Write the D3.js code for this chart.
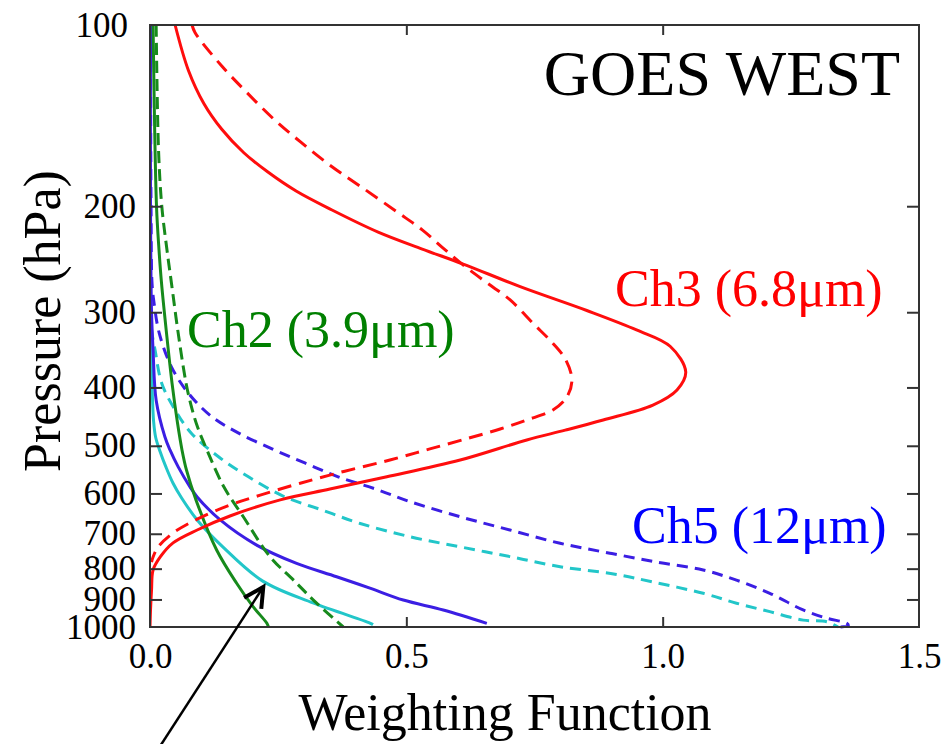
<!DOCTYPE html>
<html>
<head>
<meta charset="utf-8">
<script src="https://cdn.jsdelivr.net/npm/d3@7"></script>
<style>
  html, body { margin: 0; padding: 0; background: #fff; }
  svg { display: block; }
  text { font-family: "Liberation Serif", "Times New Roman", serif; }
</style>
</head>
<body>
<svg id="chart" width="952" height="744"></svg>
<script>
// Weighting functions, [pressure (hPa), weight] pairs
const ch3Solid = [[100,0.049],[119,0.075],[135,0.105],[149,0.140],[163,0.183],[175.5,0.230],[188.7,0.285],[202.9,0.355],[220.8,0.445],[235.6,0.531],[249.5,0.611],[272,0.722],[298,0.852],[321,0.949],[342,1.015],[377,1.045],[404,1.028],[428,0.981],[453,0.884],[471,0.810],[489,0.735],[528,0.605],[563,0.462],[590,0.351],[615,0.254],[654,0.156],[690,0.092],[725,0.045],[765,0.020],[804,0.006],[868,0.003],[937,0.001],[1000,0.0]];
const ch3Dashed = [[100,0.082],[103,0.088],[117,0.140],[130,0.191],[144,0.244],[157,0.296],[172,0.355],[186,0.413],[205,0.484],[219,0.531],[234,0.570],[250,0.610],[268,0.657],[286,0.702],[313,0.747],[338,0.786],[360,0.811],[389,0.823],[415,0.813],[436,0.786],[453,0.735],[469,0.683],[485,0.624],[506,0.546],[528,0.468],[551,0.380],[577,0.293],[604,0.215],[627,0.156],[662,0.092],[698,0.045],[736,0.016],[765,0.006],[780,0.003]];
const ch2Solid = [[100,0.006],[200,0.0127],[236.5,0.0176],[268,0.0224],[325,0.0322],[393,0.0429],[458,0.0536],[508,0.0624],[549,0.0712],[615,0.0897],[745,0.130],[846,0.169],[925,0.201],[986,0.228],[1000,0.231]];
const ch2Dashed = [[100,0.012],[161,0.0166],[200,0.023],[236,0.033],[269,0.042],[325,0.055],[393,0.0702],[428,0.080],[465,0.0926],[508,0.111],[585,0.144],[656,0.182],[764,0.234],[836,0.280],[913,0.325],[1000,0.377]];
const ch5Solid = [[100,0.001],[200,0.001],[300,0.003],[347,0.006],[420,0.012],[483,0.029],[508,0.039],[542,0.055],[585,0.078],[608,0.092],[664,0.137],[731,0.208],[784,0.286],[825,0.364],[862,0.429],[902,0.494],[937,0.572],[986,0.657]];
const ch5Dashed = [[100,0.001],[200,0.002],[269,0.004],[290,0.008],[325,0.018],[370,0.042],[409,0.075],[447,0.120],[476,0.172],[506,0.238],[534,0.302],[563,0.367],[592,0.445],[619,0.507],[656,0.605],[690,0.702],[726,0.800],[754,0.897],[781,0.991],[804,1.079],[836,1.144],[879,1.209],[937,1.274],[967,1.320],[986,1.359],[995,1.362],[1000,1.342]];
const cyanSolid = [[255,0.0],[347,0.002],[420,0.005],[455,0.007],[484,0.011],[512,0.020],[542,0.031],[577,0.045],[611,0.062],[664,0.092],[736,0.142],[839,0.220],[912,0.318],[985,0.429],[991,0.435]];
const cyanDashed = [[260,0.0],[320,0.003],[347,0.010],[394,0.023],[436,0.049],[477,0.081],[521,0.133],[563,0.192],[608,0.263],[639,0.335],[673,0.410],[708,0.507],[736,0.605],[764,0.702],[794,0.800],[817,0.907],[842,0.981],[879,1.079],[913,1.144],[943,1.209],[974,1.274],[980,1.320],[1000,1.342]];

const pressureTicks = [100, 200, 300, 400, 500, 600, 700, 800, 900, 1000];
const weightTicks = [0, 0.5, 1.0, 1.5];
const innerPressureTicks = [200, 300, 400, 500, 600, 700, 800, 900];
const innerWeightTicks = [0.5, 1.0];

// Arrow annotation: [pressure, weight] of tail and tip
const arrowTail = [1600, 0.015];
const arrowTip = [858, 0.221];

const svg = d3.select("#chart");
const plotLeft = 150, plotRight = 919, plotTop = 25, plotBottom = 627;

const x = d3.scaleLinear().domain([0, 1.5]).range([plotLeft, plotRight]);
const y = d3.scaleLog().domain([100, 1000]).range([plotTop, plotBottom]);

const line = d3.line()
  .x(d => x(d[1]))
  .y(d => y(d[0]))
  .curve(d3.curveCatmullRom.alpha(0.5));

const RED = "#ff0d0d", GREEN = "#178a1c", BLUE = "#3b1ee3", CYAN = "#22c6c9";

const series = [
  { data: cyanSolid,  color: CYAN,  dash: null },
  { data: cyanDashed, color: CYAN,  dash: "11,7" },
  { data: ch5Solid,   color: BLUE,  dash: null },
  { data: ch5Dashed,  color: BLUE,  dash: "11,7" },
  { data: ch2Solid,   color: GREEN, dash: null },
  { data: ch2Dashed,  color: GREEN, dash: "12,6" },
  { data: ch3Dashed,  color: RED,   dash: "14,8" },
  { data: ch3Solid,   color: RED,   dash: null }
];

svg.append("clipPath").attr("id", "plot-clip")
  .append("rect").attr("x", plotLeft).attr("y", plotTop - 2)
  .attr("width", plotRight - plotLeft).attr("height", plotBottom - plotTop + 4);

const curves = svg.append("g").attr("clip-path", "url(#plot-clip)");
series.forEach(s => {
  curves.append("path")
    .attr("d", line(s.data))
    .attr("fill", "none")
    .attr("stroke", s.color)
    .attr("stroke-width", 3)
    .attr("stroke-dasharray", s.dash)
    .attr("stroke-linecap", "butt");
});

// Frame and inward ticks
function styleAxis(g) {
  g.select(".domain").remove();
  g.selectAll(".tick line").attr("stroke", "#333").attr("stroke-width", 2);
  g.selectAll(".tick text")
    .attr("fill", "#000")
    .style("font-family", "'Liberation Serif', serif")
    .style("font-size", "35px");
}

svg.append("g").attr("transform", `translate(${plotLeft},0)`)
  .call(d3.axisLeft(y).tickValues(pressureTicks).tickSize(-12).tickPadding(14).tickFormat(d3.format("d")))
  .call(styleAxis)
  .call(g => g.selectAll(".tick line").filter(d => d === 100 || d === 1000).remove())
  .call(g => g.selectAll(".tick text").filter(d => d === 100).attr("x", -22));

svg.append("g").attr("transform", `translate(${plotRight},0)`)
  .call(d3.axisRight(y).tickValues(innerPressureTicks).tickSize(-12).tickFormat(""))
  .call(styleAxis);

svg.append("g").attr("transform", `translate(0,${plotBottom})`)
  .call(d3.axisBottom(x).tickValues(weightTicks).tickSize(-10).tickPadding(16).tickFormat(d3.format(".1f")))
  .call(styleAxis)
  .call(g => g.selectAll(".tick line").filter(d => d === 0 || d === 1.5).remove());

svg.append("g").attr("transform", `translate(0,${plotTop})`)
  .call(d3.axisTop(x).tickValues(innerWeightTicks).tickSize(-10).tickFormat(""))
  .call(styleAxis);

svg.append("rect")
  .attr("x", plotLeft).attr("y", plotTop)
  .attr("width", plotRight - plotLeft).attr("height", plotBottom - plotTop)
  .attr("fill", "none").attr("stroke", "#333").attr("stroke-width", 2);

// Axis titles
svg.append("text")
  .attr("x", 505).attr("y", 730)
  .attr("text-anchor", "middle")
  .style("font-size", "52px")
  .text("Weighting Function");

svg.append("text")
  .attr("transform", "translate(60,321) rotate(-90)")
  .attr("text-anchor", "middle")
  .style("font-size", "52px")
  .text("Pressure (hPa)");

// Title and channel labels
svg.append("text")
  .attr("x", 900).attr("y", 95)
  .attr("text-anchor", "end")
  .style("font-size", "64px")
  .text("GOES WEST");

svg.append("text")
  .attr("x", 615).attr("y", 306)
  .attr("fill", "#ff0000")
  .style("font-size", "52px")
  .text("Ch3 (6.8\u03bcm)");

svg.append("text")
  .attr("x", 187).attr("y", 347)
  .attr("fill", "#008000")
  .style("font-size", "52px")
  .text("Ch2 (3.9\u03bcm)");

svg.append("text")
  .attr("x", 632).attr("y", 543)
  .attr("fill", "#0000ff")
  .style("font-size", "52px")
  .text("Ch5 (12\u03bcm)");

// Arrow pointing at the Ch2 curves
const tx = x(arrowTail[1]), ty = y(arrowTail[0]);
const hx = x(arrowTip[1]), hy = y(arrowTip[0]);
svg.append("line")
  .attr("x1", tx).attr("y1", ty).attr("x2", hx).attr("y2", hy)
  .attr("stroke", "#000").attr("stroke-width", 2.5);

const ang = Math.atan2(hy - ty, hx - tx);
const headLen = 22, spread = Math.PI / 6.5;
const wing = a => [hx - headLen * Math.cos(ang + a), hy - headLen * Math.sin(ang + a)];
const w1 = wing(spread), w2 = wing(-spread);
svg.append("path")
  .attr("d", `M${w1[0]},${w1[1]}L${hx},${hy}L${w2[0]},${w2[1]}`)
  .attr("fill", "none").attr("stroke", "#000")
  .attr("stroke-width", 4).attr("stroke-linejoin", "miter");
</script>
</body>
</html>
